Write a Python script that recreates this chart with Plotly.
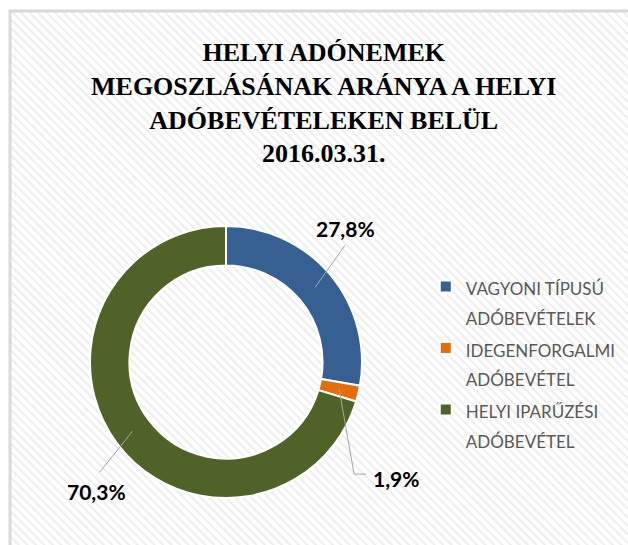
import math
import plotly.graph_objects as go

# data
labels = ["VAGYONI TÍPUSÚ<br>ADÓBEVÉTELEK", "IDEGENFORGALMI<br>ADÓBEVÉTEL", "HELYI IPARŰZÉSI<br>ADÓBEVÉTEL"]
values = [27.8, 1.9, 70.3]
colors = ["#376092", "#E46C0A", "#4F6228"]
title_lines = ["HELYI ADÓNEMEK", "MEGOSZLÁSÁNAK ARÁNYA A HELYI", "ADÓBEVÉTELEKEN BELÜL", "2016.03.31."]

W, H = 628, 545
CX, CY, R = 226, 362, 136
HOLE = 0.71

# label offsets from ring midpoint (pixels): leader path points, then text position
leaders = [
    [(30, -42)],
    [(15, 85), (27, 85)],
    [(-33, 41)],
]
text_offsets = [(30, -59), (57, 89), (-36, 60)]

fig = go.Figure()

# hatched chart area background
fig.add_trace(go.Scatter(
    x=[10, W, W, 10, 10], y=[11, 11, H, H, 11],
    fill="toself", mode="lines", line=dict(width=0),
    fillcolor="white",
    fillpattern=dict(shape="\\", fgcolor="#dcdcdc", bgcolor="white", size=6, solidity=0.35),
    hoverinfo="skip", showlegend=False,
))

# legend font is larger than the shown text so the lines get Excel-like spacing
legend_labels = ["<br>".join(f'<span style="font-size:17px">{s}</span>' for s in l.split("<br>"))
                 for l in labels]

fig.add_trace(go.Pie(
    labels=legend_labels, values=values, hole=HOLE,
    marker=dict(colors=colors, line=dict(color="white", width=2)),
    direction="clockwise", rotation=0, sort=False,
    textinfo="none", hoverinfo="percent",
    domain=dict(x=[(CX - R) / W, (CX + R) / W], y=[1 - (CY + R) / H, 1 - (CY - R) / H]),
))

# data labels with leader lines, placed from each slice's mid angle
total = sum(values)
cum = 0
rm = R * (1 + HOLE) / 2
for i, v in enumerate(values):
    ang = math.radians((cum + v / 2) / total * 360)
    cum += v
    px, py = CX + rm * math.sin(ang), CY - rm * math.cos(ang)
    path = f"M {px:.1f},{py:.1f}"
    for dx, dy in leaders[i]:
        path += f" L {px + dx:.1f},{py + dy:.1f}"
    fig.add_shape(type="path", path=path, xref="x", yref="y",
                  line=dict(color="#a6a6a6", width=1))
    tx, ty = text_offsets[i]
    fig.add_annotation(x=px + tx, y=py + ty, xref="x", yref="y", showarrow=False,
                       text=f"{v:.1f}".replace(".", ",") + "%",
                       font=dict(family="Lato", size=21, color="black", weight="bold"))

# border of the chart area
fig.add_shape(type="path", path=f"M 10,{H} L 10,11 L {W},11", xref="x", yref="y",
              line=dict(color="#d9d9d9", width=3))

fig.add_annotation(x=324, y=103, xref="x", yref="y", showarrow=False,
                   text="<br>".join(title_lines),
                   font=dict(family="Liberation Serif", size=26, color="black", weight="bold"))

fig.update_layout(
    width=W, height=H,
    margin=dict(l=0, r=0, t=0, b=0),
    paper_bgcolor="white", plot_bgcolor="rgba(0,0,0,0)",
    xaxis=dict(range=[0, W], visible=False, fixedrange=True),
    yaxis=dict(range=[H, 0], visible=False, fixedrange=True),
    showlegend=True,
    legend=dict(x=0.678, y=0.513, xanchor="left", yanchor="top", valign="top",
                font=dict(family="Lato", size=22.5, color="#595959"),
                bgcolor="rgba(0,0,0,0)"),
)

fig.write_html("out.html", config={"displayModeBar": False},
               post_script="document.body.style.margin='0';")
